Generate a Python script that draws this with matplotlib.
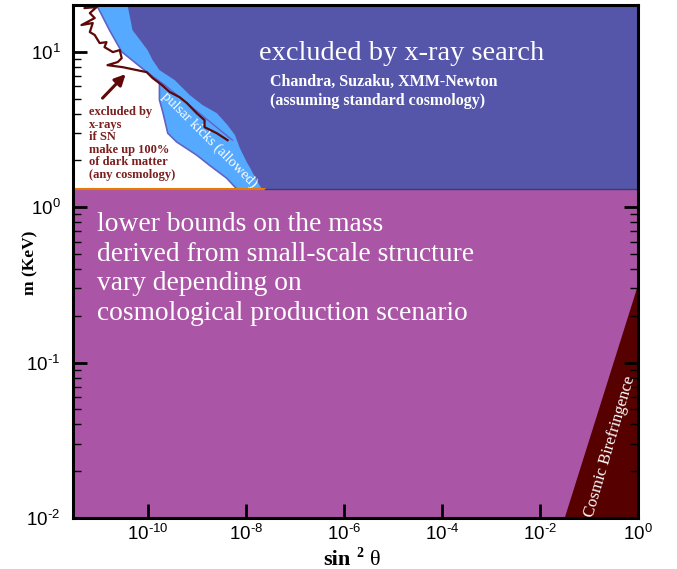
import numpy as np
import matplotlib
matplotlib.use('Agg')
import matplotlib.pyplot as plt
from matplotlib.ticker import LogLocator, NullLocator, FuncFormatter

plt.rcParams['font.family'] = ['Liberation Sans', 'DejaVu Sans']
plt.rcParams['mathtext.fontset'] = 'custom'
plt.rcParams['mathtext.rm'] = 'Liberation Sans'
plt.rcParams['mathtext.it'] = 'Liberation Sans:italic'
plt.rcParams['mathtext.bf'] = 'Liberation Sans:bold'
plt.rcParams['axes.unicode_minus'] = False

# ---------------- data ----------------
sin2_range = [3e-12, 1.0]
mass_range = [0.01, 20.0]
mass_bound = 1.3            # x-ray exclusion above, structure bounds below

# light-blue band incl. pulsar-kick region (log10 values)
band_log_sin2 = [-11.04, -10.78, -10.53, -10.02, -9.76, -9.76, -9.69, -9.59,
                 -9.41, -9.00, -8.74, -8.39, -8.18, -7.61, -5.88]
band_log_m = [1.30, 1.14, 1.00, 0.87, 0.805, 0.69, 0.61, 0.476,
              0.42, 0.335, 0.27, 0.187, 0.116, 0.116, 1.30]

# dark-blue x-ray exclusion region, left edge (log10 values)
xray_log_sin2 = [-10.41, -10.31, -10.00, -9.90, -9.76, -9.45, -9.14, -8.88,
                 -8.59, -8.37, -8.22, -8.12, -7.98, -7.92, -7.78, -7.67, 0.0, 0.0]
xray_log_m = [1.30, 1.14, 1.01, 0.947, 0.882, 0.818, 0.721, 0.657,
              0.605, 0.528, 0.464, 0.38, 0.29, 0.258, 0.174, 0.116, 0.116, 1.30]

# inner straight edge of the band
edge_log_sin2 = [-10.02, -9.65, -8.27]
edge_log_m = [0.869, 0.786, 0.431]

# SN x-ray limit (dark red jagged line), log10 values
sn_log_sin2 = [-11.14, -11.29, -11.04, -11.18, -11.08, -11.35, -11.12, -11.18,
               -11.08, -10.98, -10.84, -10.88, -10.71, -10.57, -10.53, -10.61,
               -10.82, -10.51, -10.22, -10.02, -9.90, -9.71, -9.55, -9.35,
               -9.20, -9.00, -8.84, -8.84, -8.59, -8.37]
sn_log_m = [1.301, 1.281, 1.288, 1.249, 1.217, 1.172, 1.185, 1.127,
            1.108, 1.056, 1.062, 1.030, 0.998, 1.011, 0.959, 0.934,
            0.914, 0.901, 0.882, 0.869, 0.831, 0.786, 0.741, 0.708,
            0.670, 0.605, 0.560, 0.515, 0.476, 0.431]

# arrow (tail, head), log10 values
arrow_log_sin2 = [-10.96, -10.41]
arrow_log_m = [0.689, 0.869]

# cosmic birefringence region
biref_sin2 = [0.032, 1.0, 1.0]
biref_m = [0.01, 0.315, 0.01]

x_ticks = [1e-10, 1e-8, 1e-6, 1e-4, 1e-2, 1e0]

# ---------------- colours ----------------
c_purple = '#aa55a6'
c_blue = '#5555aa'
c_light = '#55aaff'
c_edge = '#6262c4'
c_red = '#5e0808'
c_redtxt = '#7b1f1f'
c_biref = '#560000'

fig = plt.figure(figsize=(6.77, 5.69), dpi=100)
ax = fig.add_axes([73/677, 51/569, 565/677, 513/569])
ax.set_xscale('log')
ax.set_yscale('log')
ax.set_xlim(sin2_range)
ax.set_ylim(mass_range)

p = lambda a: np.power(10.0, np.array(a))

ax.axhspan(mass_range[0], mass_bound, color=c_purple, lw=0, zorder=1)
ax.fill(biref_sin2, biref_m, color=c_biref, lw=0, zorder=2)
ax.fill(p(band_log_sin2), p(band_log_m), color=c_light, lw=0, zorder=2)
ax.fill(p(xray_log_sin2), p(xray_log_m), color=c_blue, lw=0, zorder=3)
ax.plot(p(band_log_sin2[:13]), p(band_log_m[:13]), color=c_edge, lw=1.2, zorder=4)
ax.plot(p(edge_log_sin2), p(edge_log_m), color=c_edge, lw=1.0, zorder=4)
ax.plot([sin2_range[0], p(-7.61)], [mass_bound, mass_bound], color='#e87a00', lw=1.5, zorder=5)
ax.plot([p(-7.61), sin2_range[1]], [mass_bound, mass_bound], color='#3c3c6c', lw=1.0, zorder=5)
ax.plot(p(sn_log_sin2), p(sn_log_m), color=c_red, lw=1.6, zorder=6)
ax.annotate('', xy=(p(arrow_log_sin2[1]), p(arrow_log_m[1])),
            xytext=(p(arrow_log_sin2[0]), p(arrow_log_m[0])),
            arrowprops=dict(arrowstyle='-|>', color=c_red, lw=2.2,
                            mutation_scale=16), zorder=6)

# ---------------- text ----------------
serif = 'Liberation Serif'
ax.text(0.581, 0.906, 'excluded by x-ray search', transform=ax.transAxes,
        ha='center', va='center', color='white', fontsize=20.5, family=serif, zorder=7)
ax.text(0.349, 0.850, 'Chandra, Suzaku, XMM-Newton', transform=ax.transAxes,
        ha='left', va='center', color='white', fontsize=11.5, family=serif,
        weight='bold', zorder=7)
ax.text(0.349, 0.813, '(assuming standard cosmology)', transform=ax.transAxes,
        ha='left', va='center', color='white', fontsize=11.5, family=serif,
        weight='bold', zorder=7)

red_lines = ['excluded by', 'x-rays', 'if SN', 'make up 100%', 'of dark matter',
             '(any cosmology)']
for i, s in enumerate(red_lines):
    ax.text(0.028, 0.791 - i * 0.0245, s, transform=ax.transAxes, ha='left',
            va='center', color=c_redtxt, fontsize=9, family=serif,
            weight='bold', zorder=7)

purple_lines = ['lower bounds on the mass', 'derived from small-scale structure',
                'vary depending on', 'cosmological production scenario']
for i, s in enumerate(purple_lines):
    ax.text(0.0425, 0.572 - i * 0.0575, s, transform=ax.transAxes, ha='left',
            va='center', color='white', fontsize=19.8, family=serif, zorder=7)

ax.text(0.241, 0.737, 'pulsar kicks (allowed)', transform=ax.transAxes,
        ha='center', va='center', rotation=-45, rotation_mode='anchor',
        color='white', fontsize=10.5, family=serif, zorder=7)
ax.text(0.950, 0.140, 'Cosmic Birefringence', transform=ax.transAxes,
        ha='center', va='center', rotation=73.6, rotation_mode='anchor',
        color='white', fontsize=12, family=serif, zorder=7)

# axis labels
fig.text(30/677, 1 - 263/569, 'm (KeV)', rotation=90, ha='center', va='center',
         family=serif, weight='bold', fontsize=12.5)
fig.text(351/677, 1 - 565/569, 'sin', ha='right', va='baseline', family=serif,
         weight='bold', fontsize=16)
fig.text(356/677, 1 - 557/569, '2', ha='left', va='baseline', family=serif,
         weight='bold', fontsize=10)
fig.text(370/677, 1 - 565/569, 'θ', ha='left', va='baseline', family=serif,
         fontsize=16)

# ---------------- axes styling ----------------
def pow_label(v, pos):
    e = int(round(np.log10(v)))
    return r'10$^{\text{%d}}$' % e

ax.xaxis.set_major_locator(plt.FixedLocator(x_ticks))
ax.xaxis.set_minor_locator(NullLocator())
ax.xaxis.set_major_formatter(FuncFormatter(pow_label))
ax.yaxis.set_major_locator(LogLocator(base=10, numticks=10))
ax.yaxis.set_minor_locator(LogLocator(base=10, subs=np.arange(2, 10), numticks=10))
ax.yaxis.set_major_formatter(FuncFormatter(pow_label))
ax.tick_params(axis='x', which='major', direction='in', length=10, width=2,
               top=False, bottom=True, labelsize=13.5, pad=4)
ax.tick_params(axis='y', which='major', direction='in', length=10, width=2,
               left=True, right=True, labelsize=13.5, pad=9)
ax.tick_params(axis='y', which='minor', direction='in', length=6, width=1,
               left=True, right=True)
for sp in ax.spines.values():
    sp.set_linewidth(2.2)
    sp.set_zorder(10)
ax.set_axisbelow(False)

fig.savefig('out.png', dpi=100)
